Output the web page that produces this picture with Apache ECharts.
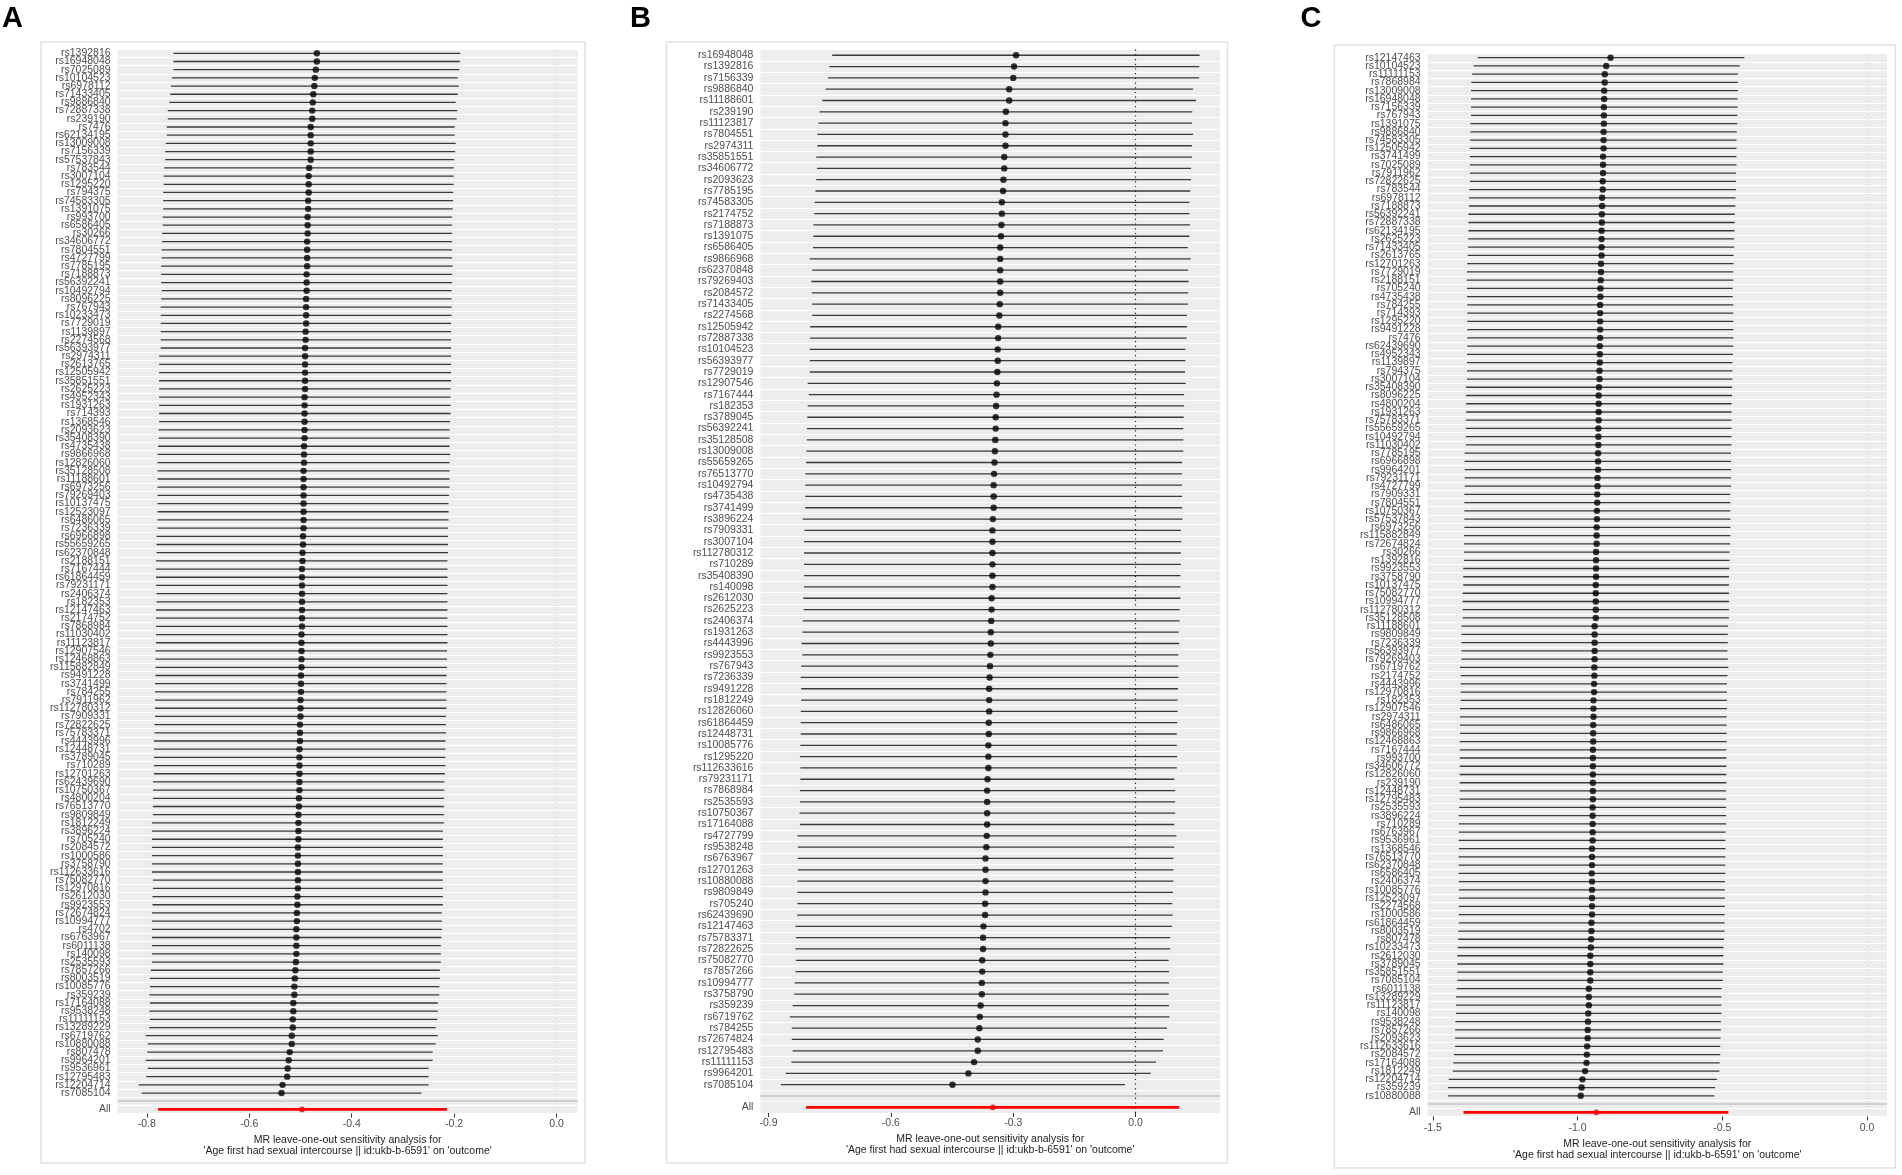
<!DOCTYPE html>
<html>
<head>
<meta charset="utf-8">
<title>MR leave-one-out sensitivity analysis</title>
<script src="https://cdn.jsdelivr.net/npm/echarts@6/dist/echarts.min.js"></script>
<style>
html, body { margin: 0; padding: 0; background: #fff; }
#main { width: 1902px; height: 1175px; }
</style>
</head>
<body>
<div id="main"></div>
<script>
// ---- panel A ----
var snpA = ['rs1392816','rs16948048','rs7025089','rs10104523','rs6978112','rs71433405','rs9886840','rs72887338','rs239190','rs7476',
  'rs62134195','rs13009008','rs7156339','rs57537843','rs783544','rs3007104','rs1295220','rs794375','rs74583305','rs1391075',
  'rs993700','rs6586405','rs30266','rs34606772','rs7804551','rs4727799','rs7785195','rs7188873','rs56392241','rs10492794',
  'rs8096225','rs767943','rs10233473','rs7729019','rs1139897','rs2274568','rs56393977','rs2974311','rs2613765','rs12505942',
  'rs35851551','rs2625223','rs4952343','rs1931263','rs714393','rs1368546','rs2093623','rs35408390','rs4735438','rs9866968',
  'rs12826060','rs35128508','rs11188601','rs6973256','rs79269403','rs10137475','rs12523097','rs6486065','rs7236339','rs6966898',
  'rs55659265','rs62370848','rs2188151','rs7167444','rs61864459','rs79231171','rs2406374','rs182353','rs12147463','rs2174752',
  'rs7868984','rs11030402','rs11123817','rs12907546','rs12468863','rs115882849','rs9491228','rs3741499','rs784255','rs7911962',
  'rs112780312','rs7909331','rs72822625','rs75783371','rs4443996','rs12448731','rs3789045','rs710289','rs12701263','rs62439690',
  'rs10750367','rs4800204','rs76513770','rs9809849','rs1812249','rs3896224','rs705240','rs2084572','rs1000586','rs3758790',
  'rs112633616','rs75082770','rs12970816','rs2612030','rs9923553','rs72674824','rs10994777','rs4702','rs6763967','rs6011138',
  'rs140098','rs2535593','rs7857266','rs8003519','rs10085776','rs359239','rs17164088','rs9538248','rs11111153','rs13289229',
  'rs6719762','rs10880088','rs807478','rs9964201','rs9536961','rs12795483','rs12204714','rs7085104'];
var bA = [-0.468,-0.468,-0.470,-0.472,-0.473,-0.475,-0.476,-0.477,-0.477,-0.480,
  -0.480,-0.480,-0.480,-0.480,-0.483,-0.484,-0.484,-0.484,-0.485,-0.485,
  -0.486,-0.486,-0.486,-0.487,-0.487,-0.487,-0.487,-0.488,-0.488,-0.488,
  -0.489,-0.489,-0.489,-0.489,-0.490,-0.490,-0.491,-0.491,-0.491,-0.491,
  -0.491,-0.491,-0.492,-0.492,-0.492,-0.492,-0.492,-0.492,-0.493,-0.493,
  -0.493,-0.494,-0.494,-0.494,-0.494,-0.494,-0.494,-0.494,-0.494,-0.495,
  -0.495,-0.496,-0.496,-0.497,-0.497,-0.497,-0.497,-0.497,-0.497,-0.497,
  -0.497,-0.498,-0.498,-0.498,-0.498,-0.498,-0.499,-0.499,-0.499,-0.500,
  -0.500,-0.500,-0.501,-0.501,-0.501,-0.502,-0.502,-0.502,-0.502,-0.502,
  -0.502,-0.503,-0.503,-0.504,-0.504,-0.504,-0.504,-0.505,-0.505,-0.505,
  -0.505,-0.505,-0.505,-0.506,-0.506,-0.507,-0.507,-0.508,-0.508,-0.508,
  -0.508,-0.509,-0.510,-0.511,-0.512,-0.512,-0.514,-0.514,-0.515,-0.515,
  -0.517,-0.517,-0.521,-0.523,-0.525,-0.526,-0.535,-0.537];
var loA = [-0.748,-0.748,-0.748,-0.751,-0.753,-0.754,-0.756,-0.759,-0.759,-0.761,
  -0.761,-0.763,-0.764,-0.764,-0.766,-0.767,-0.767,-0.768,-0.768,-0.768,
  -0.769,-0.769,-0.770,-0.770,-0.771,-0.771,-0.772,-0.772,-0.772,-0.771,
  -0.772,-0.773,-0.773,-0.773,-0.773,-0.773,-0.773,-0.776,-0.776,-0.776,
  -0.776,-0.776,-0.776,-0.776,-0.776,-0.776,-0.777,-0.777,-0.778,-0.779,
  -0.779,-0.779,-0.779,-0.779,-0.779,-0.779,-0.779,-0.779,-0.779,-0.781,
  -0.781,-0.781,-0.782,-0.782,-0.782,-0.782,-0.781,-0.781,-0.782,-0.782,
  -0.782,-0.782,-0.782,-0.783,-0.783,-0.783,-0.783,-0.784,-0.784,-0.784,
  -0.784,-0.784,-0.785,-0.785,-0.786,-0.786,-0.786,-0.786,-0.786,-0.788,
  -0.788,-0.788,-0.788,-0.788,-0.790,-0.790,-0.790,-0.790,-0.790,-0.790,
  -0.790,-0.788,-0.788,-0.789,-0.789,-0.790,-0.790,-0.790,-0.790,-0.790,
  -0.790,-0.790,-0.792,-0.794,-0.794,-0.795,-0.794,-0.795,-0.794,-0.795,
  -0.802,-0.798,-0.799,-0.802,-0.798,-0.801,-0.816,-0.810];
var hiA = [-0.188,-0.189,-0.190,-0.193,-0.191,-0.193,-0.197,-0.194,-0.195,-0.199,
  -0.199,-0.197,-0.198,-0.200,-0.201,-0.201,-0.201,-0.202,-0.202,-0.203,
  -0.204,-0.204,-0.204,-0.204,-0.204,-0.204,-0.203,-0.204,-0.204,-0.205,
  -0.205,-0.205,-0.205,-0.206,-0.206,-0.206,-0.206,-0.206,-0.206,-0.206,
  -0.206,-0.207,-0.207,-0.207,-0.207,-0.208,-0.209,-0.209,-0.209,-0.208,
  -0.209,-0.209,-0.209,-0.209,-0.210,-0.211,-0.211,-0.211,-0.212,-0.212,
  -0.212,-0.212,-0.213,-0.213,-0.213,-0.213,-0.213,-0.213,-0.213,-0.213,
  -0.213,-0.213,-0.213,-0.214,-0.214,-0.214,-0.215,-0.215,-0.215,-0.215,
  -0.215,-0.216,-0.216,-0.216,-0.217,-0.217,-0.217,-0.217,-0.218,-0.219,
  -0.219,-0.220,-0.220,-0.220,-0.220,-0.222,-0.222,-0.222,-0.222,-0.222,
  -0.222,-0.222,-0.222,-0.222,-0.222,-0.224,-0.224,-0.224,-0.225,-0.226,
  -0.226,-0.226,-0.228,-0.228,-0.229,-0.229,-0.232,-0.232,-0.233,-0.236,
  -0.232,-0.236,-0.242,-0.242,-0.250,-0.250,-0.250,-0.264];
var allA = [-0.497, -0.778, -0.214];
var ticksA = [-0.8, -0.6, -0.4, -0.2, 0];

// ---- panel B ----
var snpB = ['rs16948048','rs1392816','rs7156339','rs9886840','rs11188601','rs239190','rs11123817','rs7804551','rs2974311','rs35851551',
  'rs34606772','rs2093623','rs7785195','rs74583305','rs2174752','rs7188873','rs1391075','rs6586405','rs9866968','rs62370848',
  'rs79269403','rs2084572','rs71433405','rs2274568','rs12505942','rs72887338','rs10104523','rs56393977','rs7729019','rs12907546',
  'rs7167444','rs182353','rs3789045','rs56392241','rs35128508','rs13009008','rs55659265','rs76513770','rs10492794','rs4735438',
  'rs3741499','rs3896224','rs7909331','rs3007104','rs112780312','rs710289','rs35408390','rs140098','rs2612030','rs2625223',
  'rs2406374','rs1931263','rs4443996','rs9923553','rs767943','rs7236339','rs9491228','rs1812249','rs12826060','rs61864459',
  'rs12448731','rs10085776','rs1295220','rs112633616','rs79231171','rs7868984','rs2535593','rs10750367','rs17164088','rs4727799',
  'rs9538248','rs6763967','rs12701263','rs10880088','rs9809849','rs705240','rs62439690','rs12147463','rs75783371','rs72822625',
  'rs75082770','rs7857266','rs10994777','rs3758790','rs359239','rs6719762','rs784255','rs72674824','rs12795483','rs11111153',
  'rs9964201','rs7085104'];
var bB = [-0.293,-0.298,-0.300,-0.310,-0.310,-0.318,-0.319,-0.319,-0.319,-0.322,
  -0.322,-0.324,-0.325,-0.328,-0.328,-0.329,-0.330,-0.332,-0.332,-0.332,
  -0.332,-0.332,-0.333,-0.334,-0.337,-0.337,-0.338,-0.338,-0.339,-0.340,
  -0.341,-0.342,-0.343,-0.343,-0.344,-0.345,-0.346,-0.347,-0.348,-0.348,
  -0.348,-0.350,-0.351,-0.351,-0.351,-0.351,-0.351,-0.351,-0.353,-0.353,
  -0.354,-0.355,-0.355,-0.356,-0.357,-0.358,-0.359,-0.359,-0.359,-0.360,
  -0.360,-0.361,-0.361,-0.361,-0.363,-0.364,-0.364,-0.364,-0.364,-0.365,
  -0.366,-0.368,-0.368,-0.368,-0.368,-0.369,-0.369,-0.373,-0.374,-0.374,
  -0.376,-0.376,-0.377,-0.377,-0.380,-0.382,-0.383,-0.387,-0.387,-0.396,
  -0.410,-0.449];
var loB = [-0.744,-0.751,-0.754,-0.760,-0.768,-0.775,-0.778,-0.780,-0.780,-0.783,
  -0.781,-0.783,-0.785,-0.787,-0.788,-0.790,-0.790,-0.791,-0.799,-0.793,
  -0.795,-0.794,-0.793,-0.793,-0.798,-0.798,-0.799,-0.799,-0.799,-0.804,
  -0.801,-0.804,-0.805,-0.806,-0.806,-0.807,-0.808,-0.810,-0.810,-0.810,
  -0.810,-0.816,-0.812,-0.813,-0.813,-0.813,-0.813,-0.813,-0.815,-0.814,
  -0.816,-0.817,-0.819,-0.817,-0.820,-0.821,-0.820,-0.820,-0.821,-0.821,
  -0.821,-0.822,-0.823,-0.822,-0.822,-0.823,-0.823,-0.824,-0.823,-0.829,
  -0.828,-0.828,-0.828,-0.829,-0.829,-0.829,-0.830,-0.834,-0.833,-0.834,
  -0.833,-0.834,-0.836,-0.837,-0.841,-0.848,-0.843,-0.843,-0.841,-0.844,
  -0.858,-0.870];
var hiB = [0.157,0.156,0.156,0.141,0.148,0.139,0.138,0.141,0.138,0.138,
  0.136,0.136,0.134,0.132,0.132,0.133,0.132,0.128,0.135,0.129,
  0.130,0.129,0.128,0.126,0.126,0.125,0.122,0.122,0.121,0.123,
  0.119,0.119,0.118,0.117,0.117,0.117,0.114,0.114,0.114,0.114,
  0.114,0.115,0.111,0.112,0.111,0.111,0.110,0.110,0.110,0.108,
  0.108,0.106,0.107,0.105,0.105,0.105,0.104,0.103,0.103,0.102,
  0.101,0.101,0.102,0.101,0.095,0.097,0.097,0.097,0.095,0.100,
  0.095,0.093,0.093,0.093,0.092,0.090,0.091,0.089,0.085,0.085,
  0.081,0.082,0.082,0.081,0.082,0.083,0.077,0.069,0.067,0.050,
  0.037,-0.026];
var allB = [-0.350, -0.808, 0.107];
var ticksB = [-0.9, -0.6, -0.3, 0];

// ---- panel C ----
var snpC = ['rs12147463','rs10104523','rs11111153','rs7868984','rs13009008','rs16948048','rs7156339','rs767943','rs1391075','rs9886840',
  'rs74583305','rs12505942','rs3741499','rs7025089','rs7911962','rs72822625','rs783544','rs6978112','rs7188873','rs56392241',
  'rs72887338','rs62134195','rs2625223','rs71433405','rs2613765','rs12701263','rs7729019','rs2188151','rs705240','rs4735438',
  'rs784255','rs714393','rs1295220','rs9491228','rs7476','rs62439690','rs4952343','rs1139897','rs794375','rs3007104',
  'rs35408390','rs8096225','rs4800204','rs1931263','rs75783371','rs55659265','rs10492794','rs11030402','rs7785195','rs6966898',
  'rs9964201','rs79231171','rs4727799','rs7909331','rs7804551','rs10750367','rs57537843','rs6973256','rs115882849','rs72674824',
  'rs30266','rs1392816','rs9923553','rs3758790','rs10137475','rs75082770','rs10994777','rs112780312','rs35128508','rs11188601',
  'rs9809849','rs7236339','rs56393977','rs79269403','rs6719762','rs2174752','rs4443996','rs12970816','rs182353','rs12907546',
  'rs2974311','rs6486065','rs9866968','rs12468863','rs7167444','rs993700','rs34606772','rs12826060','rs239190','rs12448731',
  'rs12795483','rs2535593','rs3896224','rs710289','rs6763967','rs9536961','rs1368546','rs76513770','rs62370848','rs6586405',
  'rs2406374','rs10085776','rs12523097','rs2274568','rs1000586','rs61864459','rs8003519','rs807478','rs10233473','rs2612030',
  'rs3789045','rs35851551','rs7085104','rs6011138','rs13289229','rs11123817','rs140098','rs9538248','rs7857266','rs2093623',
  'rs112633616','rs2084572','rs17164088','rs1812249','rs12204714','rs359239','rs10880088'];
var bC = [-0.886,-0.901,-0.906,-0.906,-0.908,-0.908,-0.909,-0.909,-0.909,-0.910,
  -0.910,-0.910,-0.912,-0.912,-0.912,-0.913,-0.913,-0.915,-0.915,-0.916,
  -0.916,-0.917,-0.917,-0.917,-0.917,-0.919,-0.919,-0.920,-0.921,-0.921,
  -0.922,-0.922,-0.922,-0.922,-0.922,-0.923,-0.923,-0.923,-0.924,-0.924,
  -0.926,-0.927,-0.927,-0.927,-0.927,-0.928,-0.928,-0.928,-0.929,-0.929,
  -0.929,-0.931,-0.931,-0.932,-0.932,-0.933,-0.933,-0.934,-0.934,-0.934,
  -0.936,-0.936,-0.936,-0.936,-0.937,-0.937,-0.937,-0.937,-0.937,-0.941,
  -0.941,-0.941,-0.941,-0.941,-0.942,-0.942,-0.943,-0.943,-0.945,-0.945,
  -0.945,-0.946,-0.946,-0.946,-0.947,-0.947,-0.947,-0.947,-0.947,-0.947,
  -0.947,-0.948,-0.948,-0.948,-0.948,-0.948,-0.950,-0.950,-0.950,-0.951,
  -0.950,-0.950,-0.950,-0.950,-0.950,-0.952,-0.952,-0.953,-0.954,-0.956,
  -0.956,-0.956,-0.956,-0.961,-0.961,-0.961,-0.963,-0.964,-0.965,-0.965,
  -0.967,-0.968,-0.969,-0.974,-0.983,-0.986,-0.989];
var loC = [-1.345,-1.359,-1.364,-1.367,-1.368,-1.368,-1.368,-1.368,-1.370,-1.370,
  -1.371,-1.372,-1.372,-1.372,-1.372,-1.372,-1.374,-1.375,-1.375,-1.377,
  -1.377,-1.377,-1.378,-1.378,-1.379,-1.381,-1.382,-1.383,-1.382,-1.382,
  -1.381,-1.381,-1.381,-1.381,-1.381,-1.381,-1.382,-1.382,-1.382,-1.382,
  -1.385,-1.385,-1.385,-1.385,-1.386,-1.386,-1.386,-1.386,-1.390,-1.390,
  -1.390,-1.390,-1.390,-1.391,-1.391,-1.391,-1.391,-1.391,-1.392,-1.392,
  -1.392,-1.392,-1.395,-1.395,-1.395,-1.397,-1.397,-1.397,-1.397,-1.401,
  -1.401,-1.401,-1.401,-1.401,-1.406,-1.404,-1.404,-1.404,-1.404,-1.406,
  -1.406,-1.406,-1.406,-1.407,-1.407,-1.407,-1.407,-1.407,-1.407,-1.407,
  -1.407,-1.409,-1.411,-1.410,-1.410,-1.410,-1.410,-1.411,-1.411,-1.411,
  -1.410,-1.410,-1.410,-1.410,-1.410,-1.410,-1.412,-1.412,-1.414,-1.415,
  -1.415,-1.415,-1.415,-1.418,-1.420,-1.420,-1.420,-1.422,-1.423,-1.423,
  -1.423,-1.427,-1.429,-1.431,-1.445,-1.448,-1.447];
var hiC = [-0.424,-0.440,-0.446,-0.446,-0.446,-0.447,-0.447,-0.448,-0.448,-0.450,
  -0.451,-0.451,-0.451,-0.451,-0.453,-0.453,-0.453,-0.454,-0.455,-0.457,
  -0.457,-0.458,-0.459,-0.459,-0.461,-0.461,-0.462,-0.462,-0.464,-0.464,
  -0.462,-0.462,-0.462,-0.462,-0.462,-0.462,-0.463,-0.465,-0.465,-0.465,
  -0.466,-0.466,-0.468,-0.468,-0.468,-0.468,-0.468,-0.468,-0.470,-0.470,
  -0.470,-0.470,-0.470,-0.472,-0.472,-0.472,-0.472,-0.472,-0.472,-0.473,
  -0.475,-0.475,-0.476,-0.477,-0.477,-0.477,-0.477,-0.477,-0.477,-0.480,
  -0.481,-0.481,-0.482,-0.481,-0.479,-0.482,-0.484,-0.484,-0.484,-0.484,
  -0.485,-0.485,-0.485,-0.485,-0.486,-0.486,-0.486,-0.486,-0.486,-0.487,
  -0.487,-0.487,-0.487,-0.487,-0.489,-0.489,-0.489,-0.489,-0.490,-0.490,
  -0.491,-0.491,-0.491,-0.491,-0.492,-0.492,-0.492,-0.494,-0.496,-0.496,
  -0.496,-0.498,-0.498,-0.502,-0.503,-0.503,-0.503,-0.505,-0.505,-0.506,
  -0.507,-0.507,-0.509,-0.510,-0.518,-0.525,-0.528];
var allC = [-0.935, -1.394, -0.479];
var ticksC = [-1.5, -1.0, -0.5, 0];

var axisTitle = "MR leave-one-out sensitivity analysis for\n'Age first had sexual intercourse || id:ukb-b-6591' on 'outcome'";
var FONT = 'Liberation Sans';

// layout of the three panels (pixels) and x ranges
var panels = [
  { snps: snpA, b: bA, lo: loA, hi: hiA, all: allA, ticks: ticksA, min: -0.857, max: 0.041,
    left: 117.6, top: 49.2, width: 460, height: 1064.3, zero: '#d9d9d9', nameGap: 20, margin: 5 },
  { snps: snpB, b: bB, lo: loB, hi: hiB, all: allB, ticks: ticksB, min: -0.92, max: 0.207,
    left: 760.4, top: 49.6, width: 459.6, height: 1063.4, zero: '#222222', nameGap: 20, margin: 5 },
  { snps: snpC, b: bC, lo: loC, hi: hiC, all: allC, ticks: ticksC, min: -1.518, max: 0.069,
    left: 1427.6, top: 53.6, width: 459.4, height: 1062.8, zero: '#d9d9d9', nameGap: 21, margin: 6 }
];

function ciRender(color, width) {
  return function (params, api) {
    var y = api.value(1);
    var p1 = api.coord([api.value(2), y]);
    var p2 = api.coord([api.value(3), y]);
    return {
      type: 'line',
      shape: { x1: p1[0], y1: p1[1], x2: p2[0], y2: p2[1] },
      style: { stroke: color, lineWidth: width }
    };
  };
}

var grids = [], xAxes = [], yAxes = [], series = [];

panels.forEach(function (p, k) {
  var n = p.snps.length;
  // bottom to top: All, blank row, then the SNPs (first SNP on top)
  var cats = ['All', ''].concat(p.snps.slice().reverse());
  var ci = [], pts = [];
  for (var i = 0; i < n; i++) {
    var row = n + 1 - i;
    ci.push([p.b[i], row, p.lo[i], p.hi[i]]);
    pts.push([p.b[i], row]);
  }

  grids.push({ left: p.left, top: p.top, width: p.width, height: p.height,
    show: true, backgroundColor: '#ededed', borderWidth: 0 });

  xAxes.push({
    type: 'value', gridIndex: k, min: p.min, max: p.max,
    axisLine: { show: false },
    axisTick: { show: true, length: 4, customValues: p.ticks, lineStyle: { color: '#333', width: 1 } },
    axisLabel: { customValues: p.ticks, color: '#4d4d4d', fontSize: 10.5, fontFamily: FONT, margin: p.margin,
      formatter: function (v) { return v.toFixed(1); } },
    splitLine: { show: false },
    name: axisTitle, nameLocation: 'middle', nameGap: p.nameGap,
    nameTextStyle: { color: '#222', fontSize: 10.5, lineHeight: 11, fontFamily: FONT }
  });

  yAxes.push({
    type: 'category', gridIndex: k, data: cats,
    axisLine: { show: false }, axisTick: { show: false },
    axisLabel: { interval: 0, color: '#4d4d4d', fontSize: 10.5, fontFamily: FONT, margin: 7 },
    splitLine: { show: true, interval: 0, lineStyle: { color: '#ffffff', width: 1 } }
  });

  series.push({
    type: 'custom', xAxisIndex: k, yAxisIndex: k, silent: true, z: 2,
    renderItem: ciRender('#3a3a3a', 1.3),
    encode: { x: [0, 2, 3], y: 1 },
    data: ci
  });
  series.push({
    type: 'scatter', xAxisIndex: k, yAxisIndex: k, silent: true, z: 3,
    symbolSize: 6.4, itemStyle: { color: '#000' },
    data: pts,
    markLine: {
      silent: true, symbol: ['none', 'none'], label: { show: false }, animation: false,
      data: [
        { xAxis: 0, lineStyle: { type: [1.2, 3.5], color: p.zero, width: 1.2 } },
        { yAxis: 1, lineStyle: { type: 'solid', color: '#c4c4c4', width: 1.5 } }
      ]
    }
  });
  series.push({
    type: 'custom', xAxisIndex: k, yAxisIndex: k, silent: true, z: 4,
    renderItem: ciRender('#ff0000', 2.8),
    encode: { x: [0, 2, 3], y: 1 },
    data: [[p.all[0], 0, p.all[1], p.all[2]]]
  });
  series.push({
    type: 'scatter', xAxisIndex: k, yAxisIndex: k, silent: true, z: 5,
    symbolSize: 5.8, itemStyle: { color: '#ff0000' },
    data: [[p.all[0], 0]]
  });
});

var frameStyle = { fill: 'none', stroke: '#e2e2e2', lineWidth: 1.5 };
var letterFont = 'bold 29px "Liberation Sans"';

var chart = echarts.init(document.getElementById('main'));
chart.setOption({
  animation: false,
  backgroundColor: '#ffffff',
  textStyle: { fontFamily: FONT },
  grid: grids,
  xAxis: xAxes,
  yAxis: yAxes,
  series: series,
  graphic: [
    { type: 'rect', silent: true, z: -1, shape: { x: 41, y: 42, width: 544, height: 1121 }, style: frameStyle },
    { type: 'rect', silent: true, z: -1, shape: { x: 666.5, y: 42, width: 561, height: 1121 }, style: frameStyle },
    { type: 'rect', silent: true, z: -1, shape: { x: 1334.4, y: 45, width: 561, height: 1123 }, style: frameStyle },
    { type: 'text', silent: true, style: { text: 'A', x: 2, y: 18.5, font: letterFont, fill: '#000', verticalAlign: 'middle' } },
    { type: 'text', silent: true, style: { text: 'B', x: 630, y: 18.5, font: letterFont, fill: '#000', verticalAlign: 'middle' } },
    { type: 'text', silent: true, style: { text: 'C', x: 1300.5, y: 18.5, font: letterFont, fill: '#000', verticalAlign: 'middle' } }
  ]
});
</script>
</body>
</html>
